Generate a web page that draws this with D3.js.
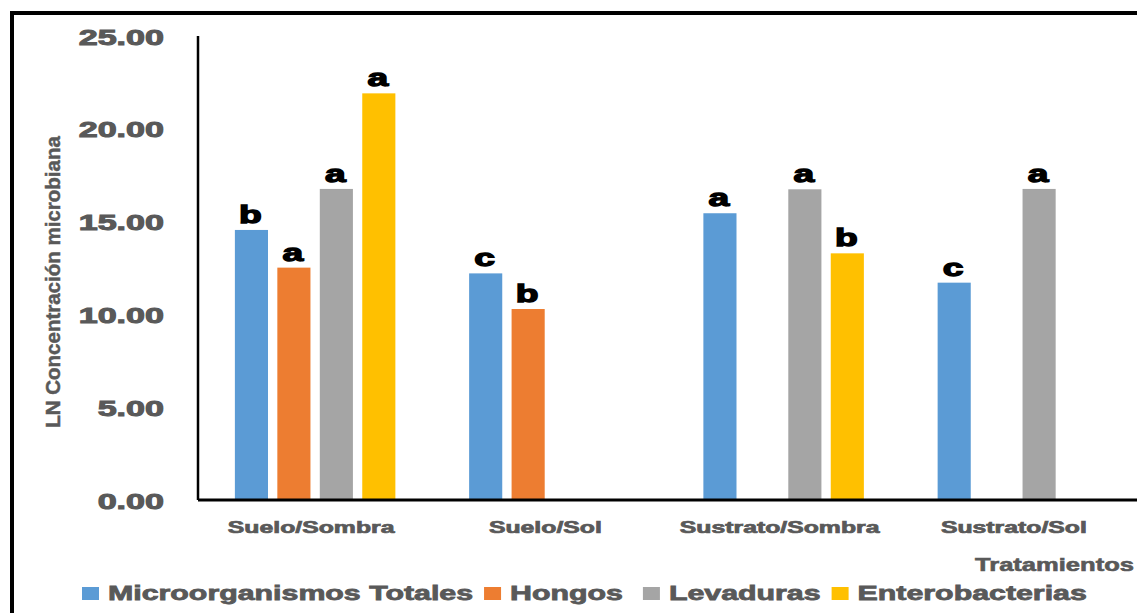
<!DOCTYPE html>
<html>
<head>
<meta charset="utf-8">
<script src="https://cdn.jsdelivr.net/npm/d3@7"></script>
<style>
  html, body { margin: 0; background: #fff; overflow: hidden; }
  svg { display: block; }
  text { font-family: "Liberation Sans", Arial, sans-serif; font-weight: bold; }
</style>
</head>
<body>
<div id="chart"></div>
<script>
var categories = ["Suelo/Sombra", "Suelo/Sol", "Sustrato/Sombra", "Sustrato/Sol"];
var seriesNames = ["Microorganismos Totales", "Hongos", "Levaduras", "Enterobacterias"];
var seriesColors = ["#5B9BD5", "#ED7D31", "#A5A5A5", "#FFC000"];
// null = no bar for that treatment
var microorganismos = [14.55, 12.21, 15.45, 11.71];
var hongos = [12.52, 10.29, null, null];
var levaduras = [16.76, null, 16.74, 16.76];
var enterobacterias = [21.91, null, 13.29, null];
var letrasMicro = ["b", "c", "a", "c"];
var letrasHongos = ["a", "b", "", ""];
var letrasLevaduras = ["a", "", "a", "a"];
var letrasEntero = ["a", "", "b", ""];
var yTicks = [0, 5, 10, 15, 20, 25];

var seriesValues = [microorganismos, hongos, levaduras, enterobacterias];
var seriesLetters = [letrasMicro, letrasHongos, letrasLevaduras, letrasEntero];

var width = 1137, height = 613;
var plotLeft = 198, plotRight = 1135, plotTop = 36, plotBottom = 500;
var sx = 1.55; // horizontal text stretch of the original
var grey = "#595959";

var svg = d3.select("#chart").append("svg")
	.attr("width", width).attr("height", height);

svg.append("rect").attr("width", width).attr("height", height).attr("fill", "#fff");

// outer frame, only top and left edges are inside the picture
svg.append("path").attr("d", "M12," + height + "V13H" + width)
	.attr("fill", "none").attr("stroke", "#000").attr("stroke-width", 4);

var x0 = d3.scaleBand().domain(categories).range([ plotLeft, plotRight ])
	.paddingInner(0.275).paddingOuter(0.1375);
var x1 = d3.scaleBand().domain(d3.range(seriesNames.length)).range([ 0, x0.bandwidth() ])
	.paddingInner(0.22).paddingOuter(0.11);
var y = d3.scaleLinear().domain([ 0, 25 ]).range([ plotBottom, plotTop ]);

var bars = [];
seriesValues.forEach(function(vals, s) {
	vals.forEach(function(v, c) {
		if (v !== null) {
			bars.push({ s : s, c : c, v : v, letter : seriesLetters[s][c] });
		}
	});
});

svg.selectAll("rect.bar").data(bars).enter().append("rect")
	.attr("class", "bar")
	.attr("x", function(d) { return x0(categories[d.c]) + x1(d.s); })
	.attr("y", function(d) { return y(d.v); })
	.attr("width", x1.bandwidth())
	.attr("height", function(d) { return y(0) - y(d.v); })
	.attr("fill", function(d) { return seriesColors[d.s]; });

// significance letters
svg.selectAll("text.letter").data(bars.filter(function(d) { return d.letter; }))
	.enter().append("text")
	.attr("class", "letter")
	.attr("transform", function(d) {
		return "translate(" + (x0(categories[d.c]) + x1(d.s) + x1.bandwidth() / 2 - 1) + ","
			+ (y(d.v) - 7) + ") scale(1.55,1)";
	})
	.attr("text-anchor", "middle")
	.style("font-size", "24px")
	.attr("fill", "#000").attr("stroke", "#000").attr("stroke-width", 1.3)
	.text(function(d) { return d.letter; });

// y axis
var yAxis = svg.append("g").attr("transform", "translate(" + plotLeft + ",0)")
	.call(d3.axisLeft(y).tickValues(yTicks).tickSize(0).tickFormat(d3.format(".2f")));
yAxis.select(".domain").remove();
yAxis.selectAll(".tick text")
	.attr("x", null).attr("dy", null)
	.attr("transform", "translate(-34,8) scale(" + sx + ",1)")
	.attr("text-anchor", "end")
	.attr("fill", grey).attr("stroke", grey).attr("stroke-width", 1)
	.style("font-size", "22px").style("font-family", "Liberation Sans, Arial, sans-serif");
svg.append("line").attr("x1", plotLeft).attr("x2", plotLeft)
	.attr("y1", y(25)).attr("y2", plotBottom)
	.attr("stroke", "#000").attr("stroke-width", 2.5);

// x axis
var xAxis = svg.append("g").attr("transform", "translate(0," + plotBottom + ")")
	.call(d3.axisBottom(x0).tickSize(0));
xAxis.select(".domain").remove();
xAxis.selectAll(".tick text")
	.attr("y", null).attr("dy", null)
	.attr("transform", "translate(-4,33) scale(" + sx + ",1)")
	.attr("text-anchor", "middle")
	.attr("fill", grey).attr("stroke", grey).attr("stroke-width", 0.7)
	.style("font-size", "16px").style("font-family", "Liberation Sans, Arial, sans-serif");
svg.append("line").attr("x1", plotLeft).attr("x2", width)
	.attr("y1", plotBottom).attr("y2", plotBottom)
	.attr("stroke", "#000").attr("stroke-width", 3);

// axis titles
svg.append("text")
	.attr("transform", "translate(60,282) rotate(-90)")
	.attr("text-anchor", "middle")
	.attr("fill", grey).attr("stroke", grey).attr("stroke-width", 0.5)
	.style("font-size", "20.5px")
	.text("LN Concentración microbiana");

svg.append("text")
	.attr("transform", "translate(1134,571) scale(1.42,1)")
	.attr("text-anchor", "end")
	.attr("fill", grey).attr("stroke", grey).attr("stroke-width", 0.6)
	.style("font-size", "18px")
	.text("Tratamientos");

// legend
var legend = svg.append("g").attr("transform", "translate(82,0)");
var lx = 0;
seriesNames.forEach(function(name, i) {
	legend.append("rect").attr("x", lx).attr("y", 587)
		.attr("width", 17).attr("height", 13).attr("fill", seriesColors[i]);
	var t = legend.append("text")
		.attr("transform", "translate(" + (lx + 26) + ",600) scale(1.48,1)")
		.attr("fill", grey).attr("stroke", grey).attr("stroke-width", 0.8)
		.style("font-size", "20.5px")
		.text(name);
	var w = t.node().getComputedTextLength() * 1.48;
	lx = lx + 26 + w + (i === 1 ? 20 : 11);
});
</script>
</body>
</html>
